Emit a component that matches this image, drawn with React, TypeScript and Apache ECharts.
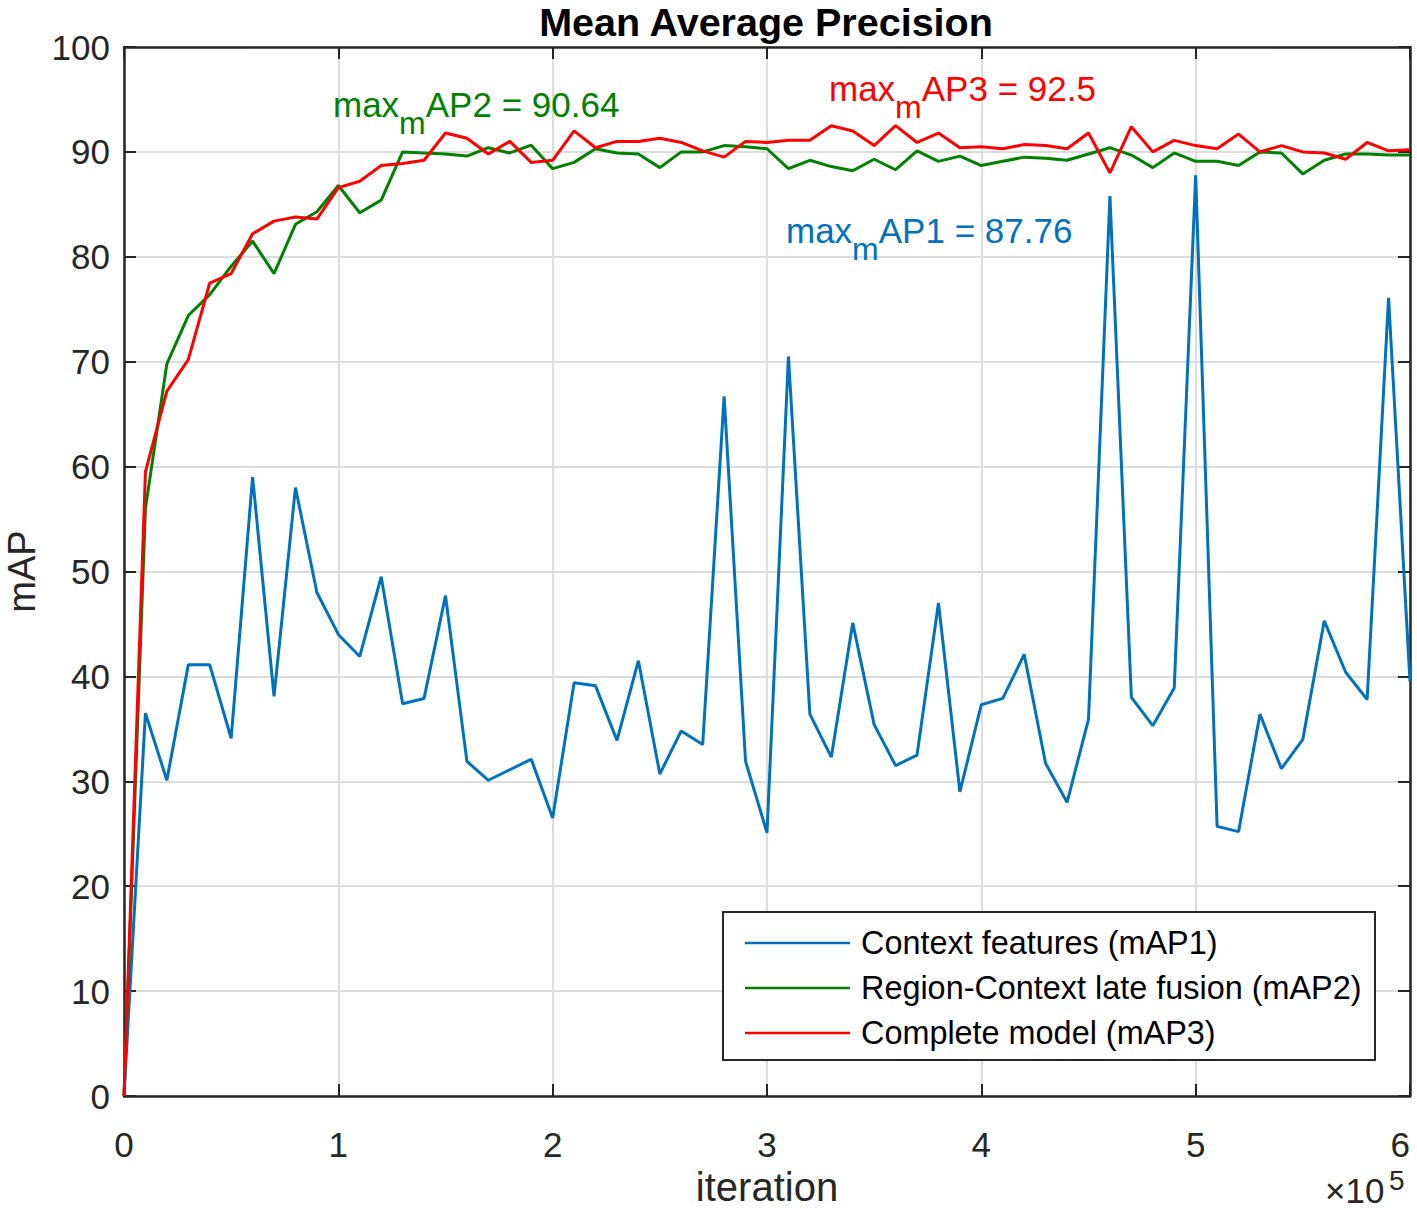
import React, { useEffect, useRef } from "react";
import * as echarts from "echarts";

const FONT = "'Liberation Sans', Arial, Helvetica, sans-serif";

const iterations = [
  0, 10000, 20000, 30000, 40000, 50000, 60000, 70000, 80000, 90000,
  100000, 110000, 120000, 130000, 140000, 150000, 160000, 170000, 180000, 190000,
  200000, 210000, 220000, 230000, 240000, 250000, 260000, 270000, 280000, 290000,
  300000, 310000, 320000, 330000, 340000, 350000, 360000, 370000, 380000, 390000,
  400000, 410000, 420000, 430000, 440000, 450000, 460000, 470000, 480000, 490000,
  500000, 510000, 520000, 530000, 540000, 550000, 560000, 570000, 580000, 590000,
  600000,
];

const mAP1 = [
  0, 36.5, 30.1, 41.1, 41.1, 34.1, 59.0, 38.1, 58.0, 48.0,
  44.0, 41.9, 49.5, 37.4, 37.9, 47.7, 31.9, 30.1, 31.1, 32.1,
  26.5, 39.4, 39.1, 33.9, 41.5, 30.7, 34.8, 33.5, 66.7, 31.9,
  25.1, 70.5, 36.4, 32.3, 45.1, 35.4, 31.5, 32.5, 47.0, 29.0,
  37.3, 37.9, 42.1, 31.7, 28.0, 35.9, 85.8, 38.0, 35.3, 38.9,
  87.76, 25.7, 25.2, 36.4, 31.2, 34.0, 45.3, 40.4, 37.8, 76.1,
  39.5,
];

const mAP2 = [
  0, 56.0, 69.8, 74.4, 76.4, 79.1, 81.5, 78.4, 83.1, 84.3,
  86.8, 84.2, 85.4, 90.0, 89.9, 89.8, 89.6, 90.4, 89.9, 90.64,
  88.4, 89.0, 90.3, 89.9, 89.8, 88.5, 90.0, 90.0, 90.6, 90.5,
  90.3, 88.4, 89.2, 88.6, 88.2, 89.3, 88.3, 90.1, 89.1, 89.6,
  88.7, 89.1, 89.5, 89.4, 89.2, 89.8, 90.4, 89.7, 88.5, 89.9,
  89.1, 89.1, 88.7, 90.0, 89.9, 87.9, 89.2, 89.8, 89.8, 89.7,
  89.7,
];

const mAP3 = [
  0, 59.5, 67.2, 70.2, 77.5, 78.4, 82.2, 83.4, 83.8, 83.6,
  86.6, 87.2, 88.7, 88.9, 89.2, 91.8, 91.3, 89.8, 91.0, 89.0,
  89.2, 92.0, 90.4, 91.0, 91.0, 91.3, 90.9, 90.1, 89.5, 91.0,
  90.9, 91.1, 91.1, 92.5, 92.0, 90.6, 92.5, 90.9, 91.8, 90.4,
  90.5, 90.3, 90.7, 90.6, 90.3, 91.8, 88.0, 92.4, 90.0, 91.1,
  90.6, 90.3, 91.7, 90.0, 90.6, 90.0, 89.9, 89.3, 90.9, 90.1,
  90.2,
];

const seriesNames = [
  "Context features (mAP1)",
  "Region-Context late fusion (mAP2)",
  "Complete model (mAP3)",
];
const seriesColors = ["#0072BD", "#008000", "#FF0000"];

const annotations = [
  { main: "max", sub: "m", rest: "AP2 = 90.64", color: "#008000", x: 333, y: 117 },
  { main: "max", sub: "m", rest: "AP3 = 92.5", color: "#FF0000", x: 829, y: 101 },
  { main: "max", sub: "m", rest: "AP1 = 87.76", color: "#0072BD", x: 786, y: 243 },
];

const AXIS_COLOR = "#262626";
const GRID_COLOR = "#dcdcdc";

function pairs(ys: number[]) {
  return iterations.map((x, i) => [x, ys[i]]);
}

export default function App() {
  const ref = useRef<HTMLDivElement>(null);

  useEffect(() => {
    document.body.style.margin = "0";
    if (!ref.current) return;
    const chart = echarts.init(ref.current, null, { renderer: "svg" });

    const MAIN = 35;
    const SUB = 32;
    const annotationGraphics: any[] = [];
    annotations.forEach((a) => {
      const mainMid = a.y - 0.3465 * MAIN;
      const subMid = a.y + 16.6 - 0.3465 * SUB;
      const subX = a.x + 1.889 * MAIN;
      const restX = subX + 0.833 * SUB;
      annotationGraphics.push(
        {
          type: "text", z: 30,
          style: { text: a.main, x: a.x, y: mainMid, fill: a.color, fontSize: MAIN, fontFamily: FONT, align: "left", verticalAlign: "middle" },
        },
        {
          type: "text", z: 30,
          style: { text: a.sub, x: subX, y: subMid, fill: a.color, fontSize: SUB, fontFamily: FONT, align: "left", verticalAlign: "middle" },
        },
        {
          type: "text", z: 30,
          style: { text: a.rest, x: restX, y: mainMid, fill: a.color, fontSize: MAIN, fontFamily: FONT, align: "left", verticalAlign: "middle" },
        }
      );
    });

    const axisCommon = {
      type: "value" as const,
      axisLine: { show: true, onZero: false, lineStyle: { color: AXIS_COLOR, width: 2.5 } },
      axisTick: { show: true, inside: true, length: 12, lineStyle: { color: AXIS_COLOR, width: 2 } },
    };

    const option: any = {
      animation: false,
      backgroundColor: "#ffffff",
      title: {
        text: "Mean Average Precision",
        left: 766,
        top: 2,
        padding: 0,
        textAlign: "center",
        textStyle: { fontSize: 39.5, fontWeight: "bold", color: "#000", fontFamily: FONT },
      },
      grid: { left: 124, right: 7, top: 47, bottom: 113, containLabel: false, outerBoundsMode: "none" },
      legend: {
        data: seriesNames,
        orient: "vertical",
        left: 745,
        top: 926,
        padding: 0,
        icon: "rect",
        itemWidth: 105,
        itemHeight: 2.5,
        itemGap: 11,
        z: 20,
        selectedMode: false,
        textStyle: { fontSize: 32.4, lineHeight: 34, color: "#000", fontFamily: FONT, padding: [0, 0, 0, 6] },
      },
      xAxis: [
        {
          ...axisCommon,
          position: "bottom",
          min: 0, max: 600000, interval: 100000,
          name: "iteration",
          nameLocation: "middle",
          nameGap: 68,
          nameTextStyle: { fontSize: 40, color: AXIS_COLOR, fontFamily: FONT },
          axisLabel: {
            margin: 31, fontSize: 35, color: AXIS_COLOR, fontFamily: FONT,
            alignMaxLabel: "right",
            formatter: (v: number) => String(Math.round(v / 100000)),
          },
          splitLine: { show: true, lineStyle: { color: GRID_COLOR, width: 2 } },
        },
        {
          ...axisCommon,
          position: "top",
          min: 0, max: 600000, interval: 100000,
          axisLabel: { show: false },
          splitLine: { show: false },
        },
      ],
      yAxis: [
        {
          ...axisCommon,
          position: "left",
          min: 0, max: 100, interval: 10,
          name: "mAP",
          nameLocation: "middle",
          nameGap: 82,
          nameTextStyle: { fontSize: 38, color: AXIS_COLOR, fontFamily: FONT },
          axisLabel: { margin: 14, fontSize: 35, color: AXIS_COLOR, fontFamily: FONT },
          splitLine: { show: true, lineStyle: { color: GRID_COLOR, width: 2 } },
        },
        {
          ...axisCommon,
          position: "right",
          min: 0, max: 100, interval: 10,
          axisLabel: { show: false },
          splitLine: { show: false },
        },
      ],
      series: [mAP1, mAP2, mAP3].map((d, i) => ({
        name: seriesNames[i],
        type: "line",
        data: pairs(d),
        showSymbol: false,
        symbol: "none",
        z: 2 + i,
        lineStyle: { color: seriesColors[i], width: 3 },
        itemStyle: { color: seriesColors[i] },
      })),
      graphic: [
        {
          type: "rect", z: 10,
          shape: { x: 723, y: 912, width: 652, height: 148 },
          style: { fill: "#ffffff", stroke: AXIS_COLOR, lineWidth: 2 },
        },
        ...annotationGraphics,
        {
          type: "text", z: 30,
          style: { text: "×10", x: 1325, y: 1190, fill: AXIS_COLOR, fontSize: 35, fontFamily: FONT, align: "left", verticalAlign: "middle" },
        },
        {
          type: "text", z: 30,
          style: { text: "5", x: 1389, y: 1180, fill: AXIS_COLOR, fontSize: 28, fontFamily: FONT, align: "left", verticalAlign: "middle" },
        },
      ],
    };

    chart.setOption(option);
    return () => chart.dispose();
  }, []);

  return <div ref={ref} style={{ width: 1417, height: 1209 }} />;
}
